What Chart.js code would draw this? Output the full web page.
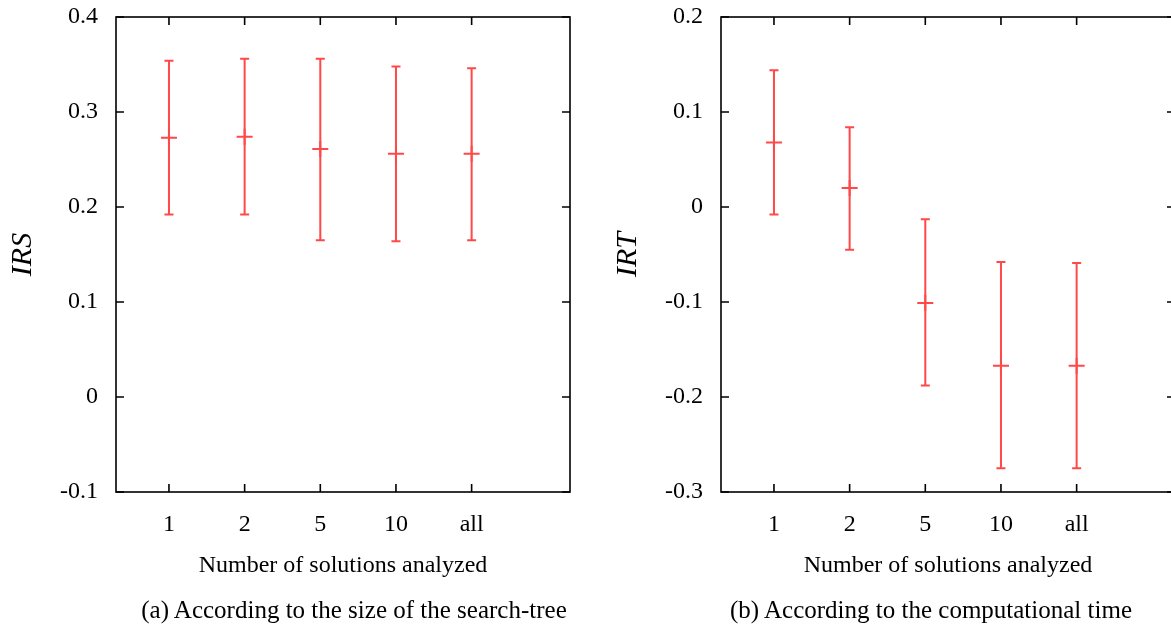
<!DOCTYPE html>
<html>
<head>
<meta charset="utf-8">
<script src="https://cdn.jsdelivr.net/npm/chart.js@4.4.0/dist/chart.umd.min.js"></script>
<style>
  body { margin: 0; width: 1171px; height: 628px; overflow: hidden; background: #fff; position: relative; }
  .panel { position: absolute; top: 0; width: 585px; height: 628px; }
  .caption { position: absolute; top: 597px; font: 25px "Liberation Serif", serif; line-height: 25px; white-space: nowrap; transform: translateX(-50%); color: #000; }
</style>
</head>
<body>
<div class="panel" style="left:0"><canvas id="chartA" width="585" height="628"></canvas></div>
<div class="panel" style="left:605px"><canvas id="chartB" width="585" height="628"></canvas></div>
<div class="caption" style="left:354px">(a) According to the size of the search-tree</div>
<div class="caption" style="left:931px">(b) According to the computational time</div>
<script>
// categories (number of solutions analyzed)
const categories = ['1', '2', '5', '10', 'all']
const xPos = [1, 2, 3, 4, 5]

// (a) IRS - search-tree size
const irsMean = [0.273, 0.274, 0.261, 0.256, 0.256]
const irsHigh = [0.354, 0.356, 0.356, 0.348, 0.346]
const irsLow  = [0.192, 0.192, 0.165, 0.164, 0.165]
const irsTicks = ['-0.1', '0', '0.1', '0.2', '0.3', '0.4']

// (b) IRT - computational time
const irtMean = [0.068, 0.020, -0.101, -0.167, -0.167]
const irtHigh = [0.144, 0.084, -0.013, -0.058, -0.059]
const irtLow  = [-0.008, -0.045, -0.188, -0.275, -0.275]
const irtTicks = ['-0.3', '-0.2', '-0.1', '0', '0.1', '0.2']

const RED = 'rgb(255, 72, 72)'

Chart.defaults.font.family = '"Liberation Serif", serif'
Chart.defaults.font.size = 24
Chart.defaults.color = '#000'

// error bars + gnuplot style frame with inward ticks
const framePlugin = {
  id: 'frame',
  beforeDatasetsDraw(chart, args, opts) {
    const {ctx, scales: {x, y}} = chart
    ctx.save()
    ctx.strokeStyle = RED
    ctx.lineWidth = 2
    opts.low.forEach((lo, i) => {
      const px = x.getPixelForValue(xPos[i])
      const yl = y.getPixelForValue(lo)
      const yh = y.getPixelForValue(opts.high[i])
      ctx.beginPath()
      ctx.moveTo(px, yl); ctx.lineTo(px, yh)
      ctx.moveTo(px - 4.5, yl); ctx.lineTo(px + 4.5, yl)
      ctx.moveTo(px - 4.5, yh); ctx.lineTo(px + 4.5, yh)
      ctx.stroke()
    })
    ctx.restore()
  },
  afterDraw(chart) {
    const {ctx, chartArea: a, scales: {x, y}} = chart
    ctx.save()
    ctx.strokeStyle = '#000'
    ctx.lineWidth = 1.6
    ctx.strokeRect(a.left, a.top, a.right - a.left, a.bottom - a.top)
    ctx.beginPath()
    x.ticks.forEach(t => {
      const px = x.getPixelForValue(t.value)
      ctx.moveTo(px, a.bottom); ctx.lineTo(px, a.bottom - 8)
      ctx.moveTo(px, a.top); ctx.lineTo(px, a.top + 8)
    })
    y.ticks.forEach(t => {
      const py = y.getPixelForValue(t.value)
      ctx.moveTo(a.left, py); ctx.lineTo(a.left + 8, py)
      ctx.moveTo(a.right, py); ctx.lineTo(a.right - 8, py)
    })
    ctx.stroke()
    ctx.restore()
  }
}

function makeChart(id, mean, high, low, yMin, yMax, yLabels, yTitle) {
  const ctx = document.getElementById(id).getContext('2d')
  return new Chart(ctx, {
    type: 'scatter',
    data: {
      datasets: [{
        data: mean.map((m, i) => ({x: xPos[i], y: m})),
        pointStyle: 'cross',
        radius: 8,
        borderWidth: 2,
        borderColor: RED,
        backgroundColor: RED
      }]
    },
    options: {
      responsive: false,
      animation: false,
      layout: {padding: {top: 17, right: 15, left: 0, bottom: 48}},
      plugins: {
        legend: {display: false},
        tooltip: {enabled: false},
        frame: {high: high, low: low}
      },
      scales: {
        x: {
          type: 'linear',
          min: 0.3,
          max: 6.3,
          afterBuildTicks: scale => { scale.ticks = xPos.map(v => ({value: v})) },
          afterFit: scale => { scale.height = 88; scale.paddingLeft = 0; scale.paddingRight = 0 },
          ticks: {padding: 18, maxRotation: 0, callback: (v, i) => categories[i]},
          grid: {display: false, drawTicks: false},
          border: {display: false},
          title: {display: true, text: 'Number of solutions analyzed', padding: 0}
        },
        y: {
          min: yMin,
          max: yMax,
          afterFit: scale => { scale.width = 116; scale.paddingTop = 0; scale.paddingBottom = 0 },
          ticks: {stepSize: 0.1, padding: 18, callback: (v, i) => yLabels[i]},
          grid: {display: false, drawTicks: false},
          border: {display: false},
          title: {display: true, text: yTitle, padding: {top: 5, bottom: 0},
                  font: {size: 30, style: 'italic'}}
        }
      }
    },
    plugins: [framePlugin]
  })
}

makeChart('chartA', irsMean, irsHigh, irsLow, -0.1, 0.4, irsTicks, 'IRS')
makeChart('chartB', irtMean, irtHigh, irtLow, -0.3, 0.2, irtTicks, 'IRT')
</script>
</body>
</html>
